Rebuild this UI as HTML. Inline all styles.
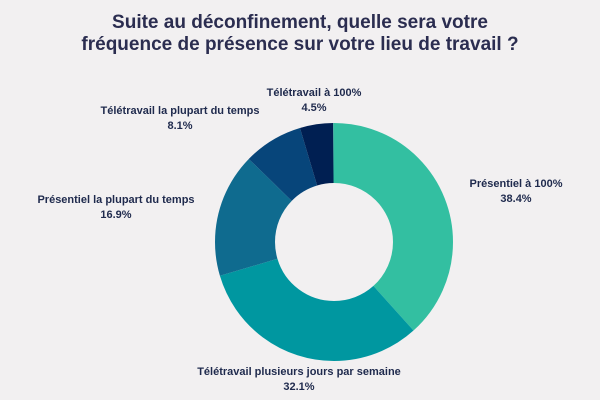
<!DOCTYPE html>
<html><head><meta charset="utf-8"><style>
body{margin:0;width:600px;height:400px;background:#f2f0f1;overflow:hidden;font-family:"Liberation Sans",sans-serif}
.t{position:absolute;left:0;width:600px;text-align:center;font-weight:bold;color:#2b2d50;font-size:19px;line-height:22px}
.l{position:absolute;text-align:center;font-weight:bold;color:#1f2a4d;font-size:11px;line-height:15px;white-space:nowrap;transform:translateX(-50%)}
</style></head><body>
<div class="t" style="top:12px">Suite au déconfinement, quelle sera votre<br>fréquence de présence sur votre lieu de travail ?</div>
<svg width="600" height="400" style="position:absolute;left:0;top:0">
<g transform="rotate(-90 334 242)" fill="none" stroke-width="60">
<circle cx="334" cy="242" r="89" pathLength="100" stroke="#33bfa1" stroke-dasharray="38.4 61.6" stroke-dashoffset="0"/>
<circle cx="334" cy="242" r="89" pathLength="100" stroke="#0097a0" stroke-dasharray="32.1 67.9" stroke-dashoffset="-38.4"/>
<circle cx="334" cy="242" r="89" pathLength="100" stroke="#0f6b8f" stroke-dasharray="16.9 83.1" stroke-dashoffset="-70.5"/>
<circle cx="334" cy="242" r="89" pathLength="100" stroke="#07457a" stroke-dasharray="8.1 91.9" stroke-dashoffset="-87.4"/>
<circle cx="334" cy="242" r="89" pathLength="100" stroke="#001f52" stroke-dasharray="4.5 95.5" stroke-dashoffset="-95.5"/>
</g></svg>
<div class="l" style="left:314px;top:86px">Télétravail à 100%<br>4.5%</div>
<div class="l" style="left:180px;top:104px">Télétravail la plupart du temps<br>8.1%</div>
<div class="l" style="left:116px;top:193px">Présentiel la plupart du temps<br>16.9%</div>
<div class="l" style="left:516px;top:177px">Présentiel à 100%<br>38.4%</div>
<div class="l" style="left:299px;top:365px">Télétravail plusieurs jours par semaine<br>32.1%</div>
</body></html>
